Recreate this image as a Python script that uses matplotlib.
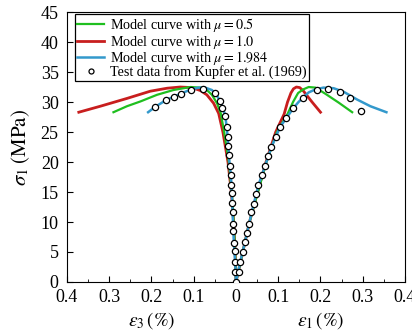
import matplotlib
matplotlib.use("Agg")
import matplotlib.pyplot as plt
from matplotlib.ticker import MultipleLocator, FuncFormatter

plt.rcParams['font.family'] = ['Liberation Serif', 'DejaVu Serif']
plt.rcParams['mathtext.fontset'] = 'stix'

# test data (Kupfer et al. 1969): eps3 side (plotted mirrored) and eps1 side
test_e3 = [0.191, 0.166, 0.147, 0.130, 0.107, 0.079, 0.050, 0.037, 0.032, 0.025,
           0.022, 0.020, 0.018, 0.017, 0.015, 0.012, 0.011, 0.010, 0.009, 0.008,
           0.007, 0.006, 0.005, 0.003, 0.002, 0.002, 0.0]
test_s3 = [29.1, 30.3, 30.9, 31.4, 32.0, 32.2, 31.5, 30.1, 29.0, 27.6,
           25.8, 24.2, 22.6, 21.2, 19.4, 17.9, 16.2, 14.8, 13.2, 11.7,
           9.7, 8.5, 6.5, 5.2, 3.3, 1.7, 0.0]
test_e1 = [0.008, 0.010, 0.016, 0.021, 0.026, 0.031, 0.036, 0.042, 0.048, 0.053,
           0.061, 0.069, 0.076, 0.084, 0.094, 0.104, 0.119, 0.136, 0.158, 0.191,
           0.217, 0.245, 0.270, 0.297]
test_s1 = [1.7, 3.3, 5.0, 6.6, 8.1, 9.7, 11.6, 13.0, 14.7, 16.1,
           17.9, 19.4, 21.0, 22.5, 24.2, 25.8, 27.3, 29.0, 30.7, 32.0,
           32.2, 31.7, 30.6, 28.5]

# model curve mu = 0.5
g_e3 = [0, 0.002, 0.0055, 0.010, 0.017, 0.028, 0.036, 0.045, 0.057, 0.069, 0.084,
        0.108, 0.148, 0.187, 0.226, 0.258, 0.290]
g_s3 = [0, 5.0, 10.0, 15.0, 20.0, 25.0, 28.1, 29.8, 31.2, 32.0, 32.4,
        32.5, 32.0, 31.2, 30.1, 29.3, 28.3]
g_e1 = [0, 0.016, 0.032, 0.052, 0.072, 0.097, 0.122, 0.135, 0.147, 0.159, 0.172,
        0.188, 0.211, 0.243, 0.275]
g_s1 = [0, 5.0, 10.0, 15.0, 20.0, 25.0, 28.0, 30.0, 31.5, 32.1, 32.5,
        32.4, 31.4, 29.9, 28.3]

# model curve mu = 1.0
r_e3 = [0, 0.002, 0.0055, 0.011, 0.019, 0.031, 0.041, 0.053, 0.069, 0.084, 0.104,
        0.132, 0.163, 0.203, 0.258, 0.321, 0.372]
r_s3 = [0, 5.0, 10.0, 15.0, 20.0, 25.0, 28.1, 29.8, 31.2, 31.9, 32.4,
        32.5, 32.3, 31.8, 30.6, 29.3, 28.3]
r_e1 = [0, 0.016, 0.032, 0.051, 0.071, 0.094, 0.114, 0.122, 0.130, 0.136, 0.143,
        0.151, 0.160, 0.180, 0.200]
r_s1 = [0, 5.0, 10.0, 15.0, 20.0, 25.0, 28.0, 30.0, 31.5, 32.2, 32.5,
        32.4, 31.8, 30.0, 28.3]

# model curve mu = 1.984
b_e3 = [0, 0.002, 0.005, 0.007, 0.009, 0.012, 0.015, 0.018, 0.021, 0.025, 0.031,
        0.037, 0.047, 0.057, 0.073, 0.088, 0.107, 0.130, 0.147, 0.166, 0.191, 0.208]
b_s3 = [0, 3.3, 6.5, 9.7, 13.2, 17.9, 19.4, 22.6, 25.0, 27.6, 29.0,
        30.1, 31.3, 32.0, 32.4, 32.4, 32.1, 31.4, 30.9, 30.3, 29.2, 28.3]
b_e1 = [0, 0.010, 0.021, 0.031, 0.042, 0.053, 0.069, 0.084, 0.104, 0.119, 0.136,
        0.148, 0.158, 0.172, 0.188, 0.207, 0.231, 0.255, 0.287, 0.318, 0.356]
b_s1 = [0, 3.3, 6.6, 9.7, 13.0, 16.1, 19.4, 22.5, 25.8, 27.3, 29.0,
        30.0, 30.7, 31.6, 32.1, 32.4, 32.3, 31.7, 30.4, 29.3, 28.3]

fig = plt.figure(figsize=(4.12, 3.34), dpi=100)
ax = fig.add_axes([0.1626, 0.1557, 0.8204, 0.8083])

curves = [
    (r_e3, r_s3, r_e1, r_s1, '#c81e1e', 2.0, r'Model curve with $\mu = 1.0$'),
    (g_e3, g_s3, g_e1, g_s1, '#1fbf1f', 1.6, r'Model curve with $\mu = 0.5$'),
    (b_e3, b_s3, b_e1, b_s1, '#3399cc', 1.8, r'Model curve with $\mu = 1.984$'),
]
handles = {}
for e3, s3, e1, s1, c, lw, lab in curves:
    l1, = ax.plot([-v for v in e3], s3, color=c, lw=lw, label=lab)
    ax.plot(e1, s1, color=c, lw=lw)
    handles[lab] = l1

ax.plot([-v for v in test_e3], test_s3, ls='none', marker='o', ms=4.5,
        mfc='white', mec='black', mew=0.9, zorder=5)
m, = ax.plot(test_e1, test_s1, ls='none', marker='o', ms=4.5,
             mfc='white', mec='black', mew=0.9, zorder=5,
             label='Test data from Kupfer et al. (1969)')

order = [r'Model curve with $\mu = 0.5$', r'Model curve with $\mu = 1.0$',
         r'Model curve with $\mu = 1.984$']
leg = ax.legend([handles[k] for k in order] + [m], order + [m.get_label()],
                loc='upper left', bbox_to_anchor=(0.024, 0.992), fontsize=10.2,
                fancybox=False, edgecolor='black', framealpha=1,
                handlelength=1.9, handletextpad=0.4, borderpad=0.15,
                labelspacing=-0.12, borderaxespad=0, markerscale=0.8)
leg.get_frame().set_linewidth(0.9)

ax.set_xlim(-0.4, 0.4)
ax.set_ylim(0, 45)
ax.xaxis.set_major_locator(MultipleLocator(0.1))
ax.xaxis.set_minor_locator(MultipleLocator(0.05))
ax.yaxis.set_major_locator(MultipleLocator(5))
ax.xaxis.set_major_formatter(FuncFormatter(lambda v, p: '0' if abs(v) < 1e-9 else '%g' % abs(round(v, 2))))
ax.tick_params(which='both', direction='in', top=False, right=False, labelsize=13)
ax.tick_params(which='major', length=4)
ax.tick_params(which='minor', length=2)
ax.tick_params(axis='x', pad=5)
ax.tick_params(axis='y', pad=6)

ax.set_ylabel(r'$\sigma_1\;(\mathrm{MPa})$', fontsize=15, labelpad=6)
tr = ax.get_xaxis_transform()
ax.text(-0.2, -0.105, r'$\varepsilon_3\,(\%)$', transform=tr, ha='center', va='top', fontsize=14)
ax.text(0.2, -0.105, r'$\varepsilon_1\,(\%)$', transform=tr, ha='center', va='top', fontsize=14)

fig.savefig('out.png', dpi=100)
